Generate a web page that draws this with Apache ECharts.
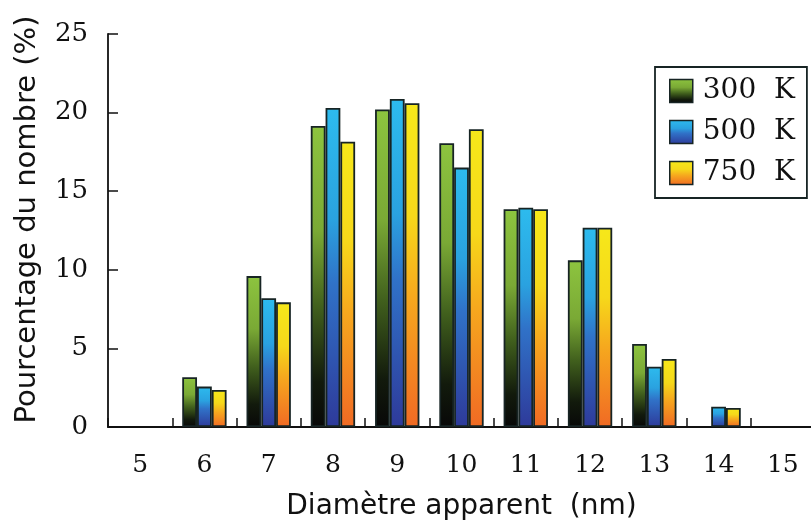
<!DOCTYPE html>
<html>
<head>
<meta charset="utf-8">
<script src="https://cdn.jsdelivr.net/npm/echarts@6/dist/echarts.min.js"></script>
<style>html,body{margin:0;padding:0;background:#fff;}#c{width:811px;height:521px;}</style>
</head>
<body>
<div id="c"></div>
<script>
var categories = ['5','6','7','8','9','10','11','12','13','14','15'];
var seriesNames = ['300  K', '500  K', '750  K'];
var v300 = [null, 3.17, 9.6, 19.15, 20.2, 18.05, 13.85, 10.6, 5.28, null, null];
var v500 = [null, 2.57, 8.19, 20.3, 20.87, 16.5, 13.95, 12.68, 3.84, 1.29, null];
var v750 = [null, 2.35, 7.93, 18.15, 20.6, 18.94, 13.85, 12.68, 4.33, 1.21, null];
var yTicks = [0, 5, 10, 15, 20, 25];

function grad(stops) {
  return new echarts.graphic.LinearGradient(0, 0, 0, 1, stops.map(function (s) { return { offset: s[0], color: s[1] }; }));
}
var gGreen = grad([[0, '#8dc43f'], [0.35, '#7aa935'], [0.6, '#41601d'], [0.85, '#121a0c'], [1, '#080808']]);
var gBlue = grad([[0, '#2dbbee'], [0.35, '#2aa2e0'], [0.55, '#3072c8'], [1, '#2e3a9a']]);
var gYellow = grad([[0, '#f6e81a'], [0.35, '#f6d81a'], [0.6, '#f6a81e'], [1, '#f06a24']]);

var border = '#172424';
function mk(name, data, color) {
  return {
    name: name, type: 'bar', data: data,
    barGap: '0%', barCategoryGap: '31%',
    itemStyle: { color: color, borderColor: border, borderWidth: 1.8 }
  };
}

var chart = echarts.init(document.getElementById('c'), null, { renderer: 'canvas' });
chart.setOption({
  animation: false,
  backgroundColor: '#ffffff',
  grid: { left: 108, top: 34, right: -4, bottom: 94, containLabel: false, outerBoundsMode: 'none' },
  legend: {
    orient: 'vertical', left: 655, top: 67,
    data: seriesNames,
    icon: 'rect',
    itemWidth: 23, itemHeight: 23, itemGap: 13,
    padding: [10, 12, 11, 14],
    borderColor: '#172424', borderWidth: 1.8,
    itemStyle: { borderColor: '#172424', borderWidth: 1.5 },
    textStyle: { fontFamily: 'DejaVu Serif', fontSize: 28, color: '#111', lineHeight: 28, padding: [0, 0, 0, 5] }
  },
  xAxis: {
    type: 'category', data: categories,
    name: 'Diamètre apparent  (nm)', nameLocation: 'middle', nameGap: 66,
    nameTextStyle: { fontFamily: 'DejaVu Sans', fontSize: 28, color: '#111' },
    axisLine: { lineStyle: { color: '#111', width: 1.8 } },
    axisTick: { show: true, inside: true, length: 9, alignWithLabel: false, lineStyle: { color: '#111', width: 1.5 } },
    axisLabel: { fontFamily: 'DejaVu Serif', fontSize: 25, color: '#111', margin: 26 },
    splitLine: { show: false }
  },
  yAxis: {
    type: 'value', min: 0, max: 25, interval: 5,
    name: 'Pourcentage du nombre (%)', nameLocation: 'middle', nameGap: 66, nameRotate: 90,
    nameTextStyle: { fontFamily: 'DejaVu Sans', fontSize: 29, color: '#111', padding: [0, 0, 0, 22] },
    axisLine: { show: true, lineStyle: { color: '#111', width: 1.8 } },
    axisTick: { show: true, inside: true, length: 10, lineStyle: { color: '#111', width: 1.5 } },
    axisLabel: { fontFamily: 'DejaVu Serif', fontSize: 26, color: '#111', margin: 20,
      formatter: function (v) { return yTicks.indexOf(v) >= 0 ? String(v) : ''; } },
    splitLine: { show: false }
  },
  series: [mk(seriesNames[0], v300, gGreen), mk(seriesNames[1], v500, gBlue), mk(seriesNames[2], v750, gYellow)]
});
</script>
</body>
</html>
